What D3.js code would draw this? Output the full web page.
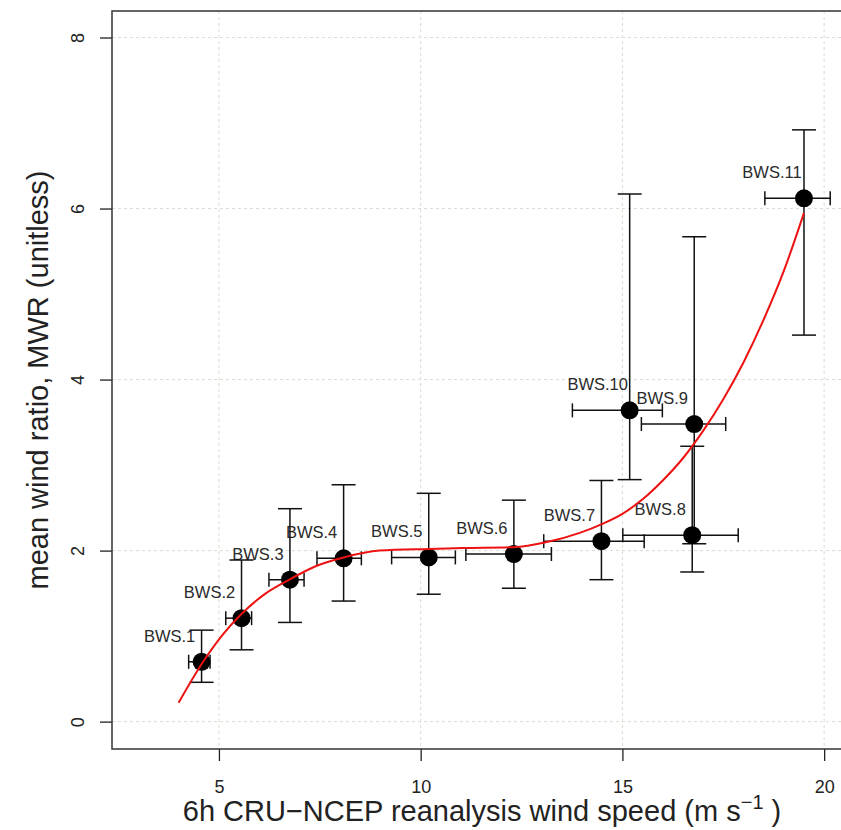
<!DOCTYPE html>
<html>
<head>
<meta charset="utf-8">
<script src="https://cdn.jsdelivr.net/npm/d3@7"></script>
<style>
  body { margin: 0; background: #fff; }
  svg { display: block; font-family: "Liberation Sans", Arial, sans-serif; }
</style>
</head>
<body>
<div class="viz"></div>
<script>
// bins of wind speed
const labels = ["BWS.1", "BWS.2", "BWS.3", "BWS.4", "BWS.5", "BWS.6", "BWS.7", "BWS.8", "BWS.9", "BWS.10", "BWS.11"];
const windX = [4.57, 5.56, 6.76, 8.09, 10.20, 12.31, 14.48, 16.73, 16.78, 15.18, 19.50];
const windLow = [4.25, 5.17, 6.24, 7.43, 9.28, 11.12, 13.05, 15.01, 15.47, 13.76, 18.53];
const windHigh = [4.78, 5.81, 7.11, 8.53, 10.86, 13.24, 15.54, 17.87, 17.56, 15.99, 20.15];
const mwr = [0.70, 1.21, 1.66, 1.91, 1.92, 1.96, 2.11, 2.18, 3.48, 3.64, 6.12];
const mwrLow = [0.46, 0.84, 1.16, 1.41, 1.49, 1.56, 1.66, 1.75, 2.08, 2.83, 4.52];
const mwrHigh = [1.07, 1.89, 2.49, 2.77, 2.67, 2.59, 2.82, 3.22, 5.67, 6.17, 6.92];

// red fitted curve
const curveX = [4.0, 4.58, 5.08, 5.54, 6.16, 6.78, 7.41, 8.09, 8.98, 10.22, 11.05, 12.30, 13.13, 13.96, 14.49, 15.0, 15.5, 16.0, 16.5, 17.0, 17.5, 18.0, 18.5, 19.0, 19.5];
const curveY = [0.22, 0.68, 1.01, 1.25, 1.50, 1.67, 1.82, 1.92, 2.00, 2.02, 2.03, 2.04, 2.10, 2.21, 2.31, 2.43, 2.60, 2.82, 3.08, 3.40, 3.77, 4.20, 4.70, 5.27, 5.95];

const xTicks = [5, 10, 15, 20];
const yTicks = [0, 2, 4, 6, 8];

const width = 841, height = 830;
const plot = { left: 112, right: 852, top: 11, bottom: 749 };

const data = labels.map((label, i) => ({
  label,
  x: windX[i], xl: windLow[i], xh: windHigh[i],
  y: mwr[i], yl: mwrLow[i], yh: mwrHigh[i],
}));
const curve = curveX.map((x, i) => ({ x, y: curveY[i] }));

const svg = d3.select(".viz").append("svg")
  .attr("width", width)
  .attr("height", height);

const xScale = d3.scaleLinear().domain([2.35, 20.69]).range([plot.left, plot.right]);
const yScale = d3.scaleLinear().domain([-0.32, 8.31]).range([plot.bottom, plot.top]);

// grid
const grid = svg.append("g").attr("class", "grid")
  .attr("stroke", "#dcdcd2").attr("stroke-width", 1).attr("stroke-dasharray", "3,3");
grid.selectAll("line.v").data(xTicks).join("line").attr("class", "v")
  .attr("x1", d => xScale(d)).attr("x2", d => xScale(d))
  .attr("y1", plot.top).attr("y2", plot.bottom);
grid.selectAll("line.h").data(yTicks).join("line").attr("class", "h")
  .attr("x1", plot.left).attr("x2", plot.right)
  .attr("y1", d => yScale(d)).attr("y2", d => yScale(d));

// axes
const xAxis = svg.append("g")
  .attr("transform", `translate(0, ${plot.bottom})`)
  .call(d3.axisBottom(xScale).tickValues(xTicks).tickSize(12).tickPadding(19));
xAxis.select(".domain").remove();
xAxis.selectAll("line").attr("stroke", "#222").attr("stroke-width", 1.3);
xAxis.selectAll("text").attr("font-size", 18).attr("fill", "#222")
  .attr("font-family", "Liberation Sans, Arial, sans-serif");

const yAxis = svg.append("g")
  .attr("transform", `translate(${plot.left}, 0)`)
  .call(d3.axisLeft(yScale).tickValues(yTicks).tickSize(12));
yAxis.select(".domain").remove();
yAxis.selectAll("line").attr("stroke", "#222").attr("stroke-width", 1.3);
yAxis.selectAll("text")
  .attr("x", null).attr("dy", null)
  .attr("text-anchor", "middle")
  .attr("transform", "translate(-28,0) rotate(-90)")
  .attr("font-size", 18).attr("fill", "#222")
  .attr("font-family", "Liberation Sans, Arial, sans-serif");

// box
svg.append("rect")
  .attr("x", plot.left).attr("y", plot.top)
  .attr("width", plot.right - plot.left).attr("height", plot.bottom - plot.top)
  .attr("fill", "none").attr("stroke", "#333").attr("stroke-width", 1.5);

// labels
svg.append("g").selectAll("text").data(data).join("text")
  .attr("x", d => xScale(d.x) - 32)
  .attr("y", d => yScale(d.y) - 20)
  .attr("text-anchor", "middle")
  .attr("font-size", 16.5)
  .attr("fill", "#2a2a2a")
  .text(d => d.label);

// error bars
const bars = svg.append("g").attr("stroke", "#111").attr("stroke-width", 1.5).attr("fill", "none");
const eb = bars.selectAll("g").data(data).join("g");
eb.append("line")
  .attr("x1", d => xScale(d.x)).attr("x2", d => xScale(d.x))
  .attr("y1", d => yScale(d.yl)).attr("y2", d => yScale(d.yh));
eb.append("line")
  .attr("x1", d => xScale(d.x) - 12).attr("x2", d => xScale(d.x) + 12)
  .attr("y1", d => yScale(d.yl)).attr("y2", d => yScale(d.yl));
eb.append("line")
  .attr("x1", d => xScale(d.x) - 12).attr("x2", d => xScale(d.x) + 12)
  .attr("y1", d => yScale(d.yh)).attr("y2", d => yScale(d.yh));
eb.append("line")
  .attr("x1", d => xScale(d.xl)).attr("x2", d => xScale(d.xh))
  .attr("y1", d => yScale(d.y)).attr("y2", d => yScale(d.y));
eb.append("line")
  .attr("x1", d => xScale(d.xl)).attr("x2", d => xScale(d.xl))
  .attr("y1", d => yScale(d.y) - 7).attr("y2", d => yScale(d.y) + 7);
eb.append("line")
  .attr("x1", d => xScale(d.xh)).attr("x2", d => xScale(d.xh))
  .attr("y1", d => yScale(d.y) - 7).attr("y2", d => yScale(d.y) + 7);

// points
svg.append("g").selectAll("circle").data(data).join("circle")
  .attr("cx", d => xScale(d.x))
  .attr("cy", d => yScale(d.y))
  .attr("r", 9)
  .attr("fill", "#000");

// fitted curve
const line = d3.line()
  .x(d => xScale(d.x))
  .y(d => yScale(d.y))
  .curve(d3.curveMonotoneX);
svg.append("path")
  .datum(curve)
  .attr("d", line)
  .attr("fill", "none")
  .attr("stroke", "#ee1111")
  .attr("stroke-width", 2);

// axis titles
const xTitle = svg.append("text")
  .attr("x", (plot.left + plot.right) / 2)
  .attr("y", 821)
  .attr("text-anchor", "middle")
  .attr("font-size", 29)
  .attr("fill", "#222");
xTitle.append("tspan").text("6h CRU\u2212NCEP reanalysis wind speed (m s");
xTitle.append("tspan").attr("font-size", 20).attr("dy", -12).text("\u22121");
xTitle.append("tspan").attr("dy", 12).text(" )");

svg.append("text")
  .attr("transform", `translate(48, ${(plot.top + plot.bottom) / 2}) rotate(-90)`)
  .attr("text-anchor", "middle")
  .attr("font-size", 29)
  .attr("fill", "#222")
  .text("mean wind ratio, MWR (unitless)");
</script>
</body>
</html>
